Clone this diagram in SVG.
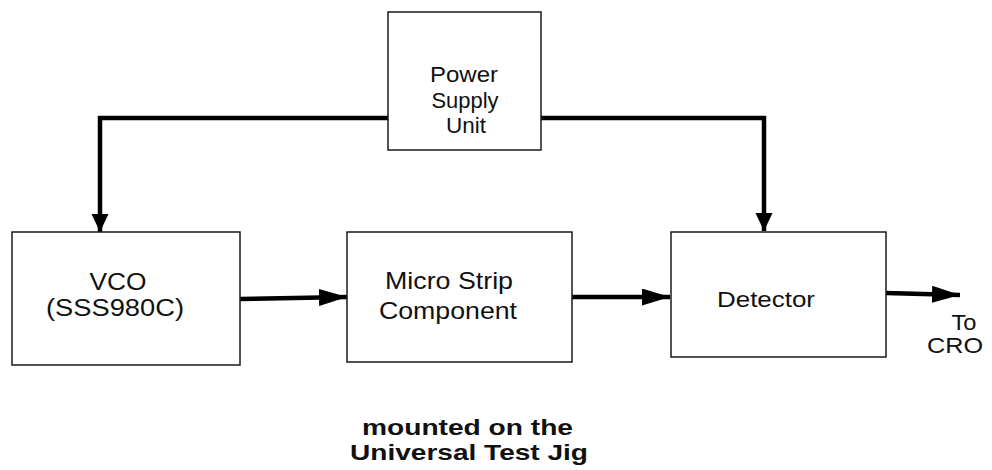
<svg xmlns="http://www.w3.org/2000/svg" width="992" height="470" viewBox="0 0 992 470">
<style>
.box{fill:#fff;stroke:#1a1a1a;stroke-width:1.5}
.t{font-family:"Liberation Sans",Arial,sans-serif;fill:#111;text-anchor:middle}
.b{font-weight:bold}
.c{fill:none;stroke:#000;stroke-width:4.5}
</style>
<defs>
<marker id="ah" markerUnits="userSpaceOnUse" markerWidth="30" markerHeight="18" refX="28" refY="8.5" orient="auto">
<path d="M0,0 L28,8.5 L0,17 Z" fill="#000"/>
</marker>
<marker id="ad" markerUnits="userSpaceOnUse" markerWidth="20" markerHeight="18" refX="18" refY="8.5" orient="auto">
<path d="M0,0 L18,8.5 L0,17 Z" fill="#000"/>
</marker>
</defs>
<g id="connectors">
<path class="c" d="M388,118 H100 V232" marker-end="url(#ad)"/>
<path class="c" d="M541,118 H764 V231" marker-end="url(#ad)"/>
<path class="c" d="M240,299 L347,297" marker-end="url(#ah)"/>
<path class="c" d="M572,297 L670,297" marker-end="url(#ah)"/>
<path class="c" d="M886,293 L960,295" marker-end="url(#ah)"/>
</g>
<g id="psu">
<rect class="box" x="388" y="12" width="153" height="138"/>
<text class="t" font-size="22" x="464" y="82" textLength="68" lengthAdjust="spacingAndGlyphs">Power</text>
<text class="t" font-size="22" x="465" y="108" textLength="67" lengthAdjust="spacingAndGlyphs">Supply</text>
<text class="t" font-size="22" x="466" y="133" textLength="40" lengthAdjust="spacingAndGlyphs">Unit</text>
</g>
<g id="vco">
<rect class="box" x="12" y="232" width="228" height="133"/>
<text class="t" font-size="23" x="118" y="290" textLength="57" lengthAdjust="spacingAndGlyphs">VCO</text>
<text class="t" font-size="23" x="115" y="316" textLength="138" lengthAdjust="spacingAndGlyphs">(SSS980C)</text>
</g>
<g id="microstrip">
<rect class="box" x="347" y="232" width="225" height="130"/>
<text class="t" font-size="24" x="449" y="289" textLength="128" lengthAdjust="spacingAndGlyphs">Micro Strip</text>
<text class="t" font-size="24" x="448" y="319" textLength="138" lengthAdjust="spacingAndGlyphs">Component</text>
</g>
<g id="detector">
<rect class="box" x="671" y="232" width="215" height="125"/>
<text class="t" font-size="22" x="766" y="307" textLength="98" lengthAdjust="spacingAndGlyphs">Detector</text>
</g>
<g id="output">
<text class="t" font-size="22" x="964" y="330" textLength="25" lengthAdjust="spacingAndGlyphs">To</text>
<text class="t" font-size="22" x="955" y="353" textLength="56" lengthAdjust="spacingAndGlyphs">CRO</text>
</g>
<g id="caption">
<text class="t b" font-size="22" x="467.5" y="435" textLength="211" lengthAdjust="spacingAndGlyphs">mounted on the</text>
<text class="t b" font-size="22" x="469" y="460" textLength="238" lengthAdjust="spacingAndGlyphs">Universal Test Jig</text>
</g>
</svg>
